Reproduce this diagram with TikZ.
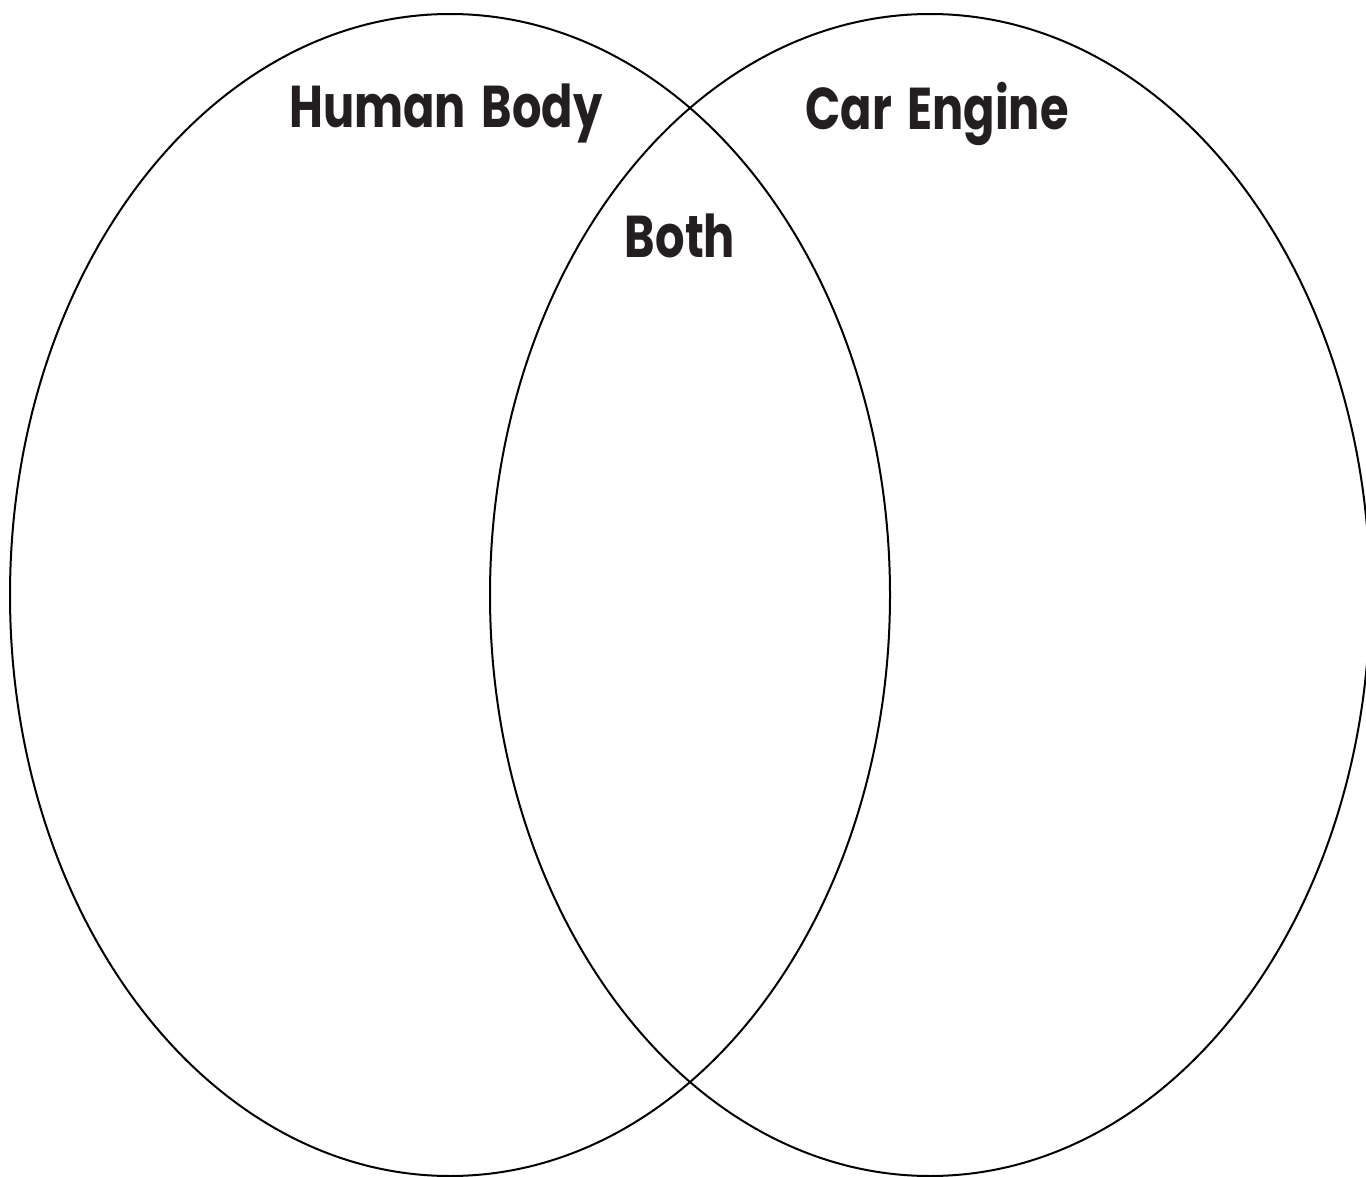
\documentclass[tikz,border=0pt]{standalone}
\usepackage{fontspec}
\newfontfamily\lblfont{Poppins}[FakeStretch=0.785,WordSpace=1.6]
\definecolor{txt}{HTML}{231F20}
\begin{document}
\begin{tikzpicture}[x=0.5pt,y=-0.5pt,
  ring/.style={draw=black,line width=1pt},
  title/.style={font=\lblfont\bfseries\fontsize{29.5}{32}\selectfont,text=txt,inner sep=0pt,anchor=base}]
\useasboundingbox (0,0) rectangle (1366,1177);
\draw[ring] (450,595) ellipse [x radius=440,y radius=581];
\draw[ring] (930,595) ellipse [x radius=440,y radius=581];
\node[title] (human) at (446,127) {Human Body};
\node[title] (car) at (937,130) {Car Engine};
\node[title] (both) at (680,257) {Both};
\end{tikzpicture}
\end{document}
